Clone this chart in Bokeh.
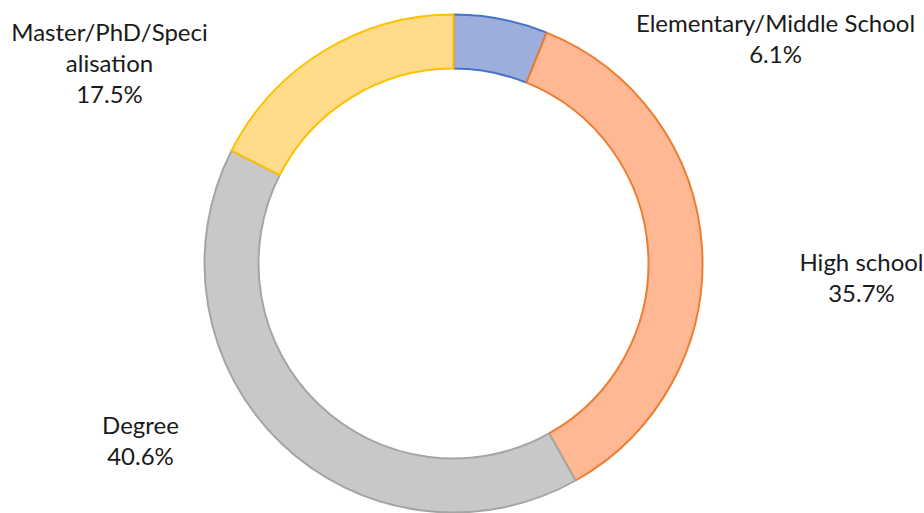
import math
from bokeh.plotting import figure
from bokeh.models import Range1d, ColumnDataSource
from bokeh.core.properties import value
from bokeh.embed import file_html
from bokeh.resources import INLINE

# ---- data ----
categories = ["Elementary/Middle School", "High school", "Degree", "Master/PhD/Speci\nalisation"]
shares = [6.1, 35.7, 40.6, 17.5]
pct_labels = ["6.1%", "35.7%", "40.6%", "17.5%"]

# ---- styles / layout ----
fill_colors = ["#9eaedc", "#ffb893", "#c8c8c8", "#ffdb8a"]
line_colors = ["#4472c4", "#ed7d31", "#a5a5a5", "#ffc000"]
W, H = 924, 513
cx, cy = 453, H - 263
r_in, r_out = 195, 249
# label block anchor (centre x, top line centre y in screen px)
label_pos = [(775, 22), (861, 261), (140, 424), (109, 31)]
line_gap = 31

total = sum(shares)
starts, ends = [], []
acc = 0.0
for s in shares:
    starts.append(math.pi / 2 - acc / total * 2 * math.pi)
    acc += s
    ends.append(math.pi / 2 - acc / total * 2 * math.pi)

src = ColumnDataSource(dict(x=[cx] * 4, y=[cy] * 4, start=starts, end=ends,
                            fill=fill_colors, line=line_colors))

p = figure(width=W, height=H, x_range=Range1d(0, W), y_range=Range1d(0, H),
           output_backend="svg", toolbar_location=None, min_border=0,
           outline_line_color=None, background_fill_color="white")
p.axis.visible = False
p.grid.visible = False

p.annular_wedge(x="x", y="y", inner_radius=r_in, outer_radius=r_out,
                start_angle="start", end_angle="end", direction="clock",
                fill_color="fill", line_color="line", line_width=2, source=src)

tx, ty, tt = [], [], []
for cat, pct, (lx, ly) in zip(categories, pct_labels, label_pos):
    lines = cat.split("\n") + [pct]
    for i, ln in enumerate(lines):
        tx.append(lx)
        ty.append(H - (ly + i * line_gap))
        tt.append(ln)

p.text(x=tx, y=ty, text=tt, text_align="center", text_baseline="middle",
       text_font=value("Lato"), text_font_size="24px", text_color="#1a1a1a")

open("out.html", "w").write(file_html(p, INLINE))
